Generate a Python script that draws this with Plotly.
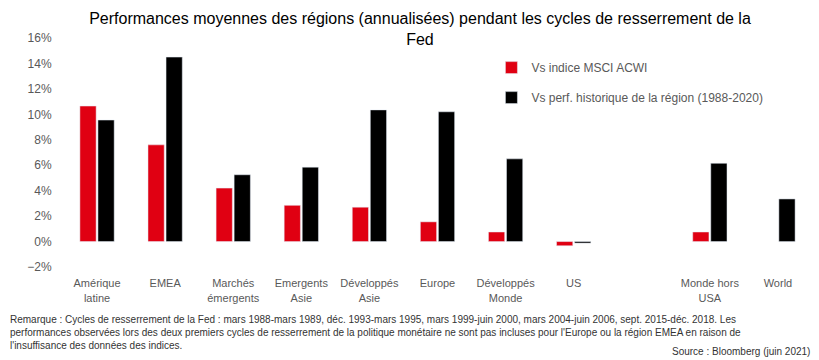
import plotly.graph_objects as go

categories = ["Amérique<br>latine", "EMEA", "Marchés<br>émergents", "Emergents<br>Asie",
              "Développés<br>Asie", "Europe", "Développés<br>Monde", "US", " ",
              "Monde hors<br>USA", "World"]
vs_msci_acwi = [10.65, 7.6, 4.2, 2.85, 2.7, 1.55, 0.75, -0.33, None, 0.75, None]
vs_perf_hist = [9.55, 14.5, 5.25, 5.85, 10.35, 10.2, 6.5, -0.12, None, 6.15, 3.35]
series_names = ["Vs indice MSCI ACWI", "Vs perf. historique de la région (1988-2020)"]

FONT = "Liberation Sans, Arial, sans-serif"
GRAY = "#595959"

fig = go.Figure()
fig.add_trace(go.Bar(x=categories, y=vs_msci_acwi, name=series_names[0],
                     marker_color="#E00012", legendgroup="a"))
fig.add_trace(go.Bar(x=categories, y=vs_perf_hist, name=series_names[1],
                     marker_color="#000000", legendgroup="b"))

fig.update_layout(
    width=811, height=352,
    margin=dict(l=55, r=7, t=30, b=93),
    paper_bgcolor="white", plot_bgcolor="white",
    font=dict(family=FONT, size=12, color=GRAY),
    title=dict(text="Performances moyennes des régions (annualisées) pendant les cycles de resserrement de la<br>Fed",
               x=0.508, xanchor="center", y=0.955, yanchor="top", xref="container", yref="container",
               font=dict(family=FONT, size=16, color="black")),
    barmode="group", bargap=0.47, bargroupgap=0.1,
    showlegend=True,
    legend=dict(x=0.572, y=0.934, xanchor="left", yanchor="top", traceorder="grouped",
                tracegroupgap=11, font=dict(family=FONT, size=12, color=GRAY),
                bgcolor="rgba(0,0,0,0)", itemwidth=30),
    xaxis=dict(showgrid=False, showline=False, ticks="outside", ticklen=6, tickcolor="white",
               tickfont=dict(size=11, color=GRAY)),
    yaxis=dict(range=[-2, 16], dtick=2, ticksuffix="%", showgrid=False, zeroline=False,
               showline=False, ticks="outside", ticklen=8, tickcolor="white",
               tickfont=dict(size=12, color=GRAY)),
    annotations=[
        dict(text="Remarque : Cycles de resserrement de la Fed : mars 1988-mars 1989, déc. 1993-mars 1995, mars 1999-juin 2000, mars 2004-juin 2006, sept. 2015-déc. 2018. Les<br>"
                  "performances observées lors des deux premiers cycles de resserrement de la politique monétaire ne sont pas incluses pour l'Europe ou la région EMEA en raison de<br>"
                  "l'insuffisance des données des indices.",
             xref="paper", yref="paper", x=-0.0734, y=-0.195, xanchor="left", yanchor="top",
             align="left", showarrow=False, font=dict(family=FONT, size=10, color="#333333")),
        dict(text="Source : Bloomberg (juin 2021)", xref="paper", yref="paper", x=1.0, y=-0.403,
             xanchor="right", yanchor="bottom", showarrow=False,
             font=dict(family=FONT, size=10, color="#333333")),
    ],
)

fig.write_html("out.html")
